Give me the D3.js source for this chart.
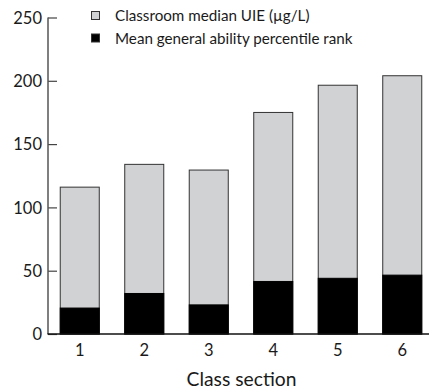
<!DOCTYPE html>
<html><head><meta charset="utf-8">
<script src="https://cdn.jsdelivr.net/npm/d3@7"></script>
<style>body{margin:0;background:#fff}svg{display:block}text{font-family:Lato,"Open Sans",sans-serif;fill:#1a1a1a}</style>
</head><body><svg id="c" width="430" height="392"></svg>
<script>
const categories = ["1","2","3","4","5","6"];
const uieMedian = [116, 134, 129.5, 175, 196.5, 204];
const abilityRank = [20.5, 32, 23, 41.5, 44, 46.5];
const yTicks = [0, 50, 100, 150, 200, 250];
const seriesNames = ["Classroom median UIE (\u00b5g/L)", "Mean general ability percentile rank"];

const svg = d3.select("#c");
const y = d3.scaleLinear().domain([0, 250]).range([334, 17.5]);
const x = d3.scaleBand().domain(categories).range([47.5, 434.5]).paddingInner(0.395).paddingOuter(0.1975);

// bars
svg.append("g").selectAll("rect").data(categories).join("rect")
  .attr("x", d => x(d)).attr("width", x.bandwidth())
  .attr("y", (d,i) => y(uieMedian[i])).attr("height", (d,i) => y(0) - y(uieMedian[i]))
  .attr("fill", "#d1d2d4").attr("stroke", "#333").attr("stroke-width", 1);
svg.append("g").selectAll("rect").data(categories).join("rect")
  .attr("x", d => x(d)).attr("width", x.bandwidth())
  .attr("y", (d,i) => y(abilityRank[i])).attr("height", (d,i) => y(0) - y(abilityRank[i]))
  .attr("fill", "#000").attr("stroke", "#000").attr("stroke-width", 1);

// y axis
const ya = svg.append("g").attr("transform", "translate(48,0)")
  .call(d3.axisRight(y).tickValues(yTicks).tickSize(9).tickFormat(d3.format("d")));
ya.select(".domain").remove();
ya.selectAll(".tick line").attr("stroke", "#444").attr("stroke-width", 1.2);
ya.selectAll(".tick text").attr("x", -6).attr("text-anchor", "end").attr("font-size", 16.5).attr("font-family", "Lato").attr("fill", "#1a1a1a").attr("dy", "0.35em");
svg.append("line").attr("x1", 48).attr("x2", 48).attr("y1", y(250)).attr("y2", y(0)).attr("stroke", "#555").attr("stroke-width", 1.5);

// x axis
const xa = svg.append("g").attr("transform", "translate(0,334)")
  .call(d3.axisBottom(x).tickSize(0).tickPadding(10));
xa.select(".domain").remove();
xa.selectAll(".tick text").attr("font-size", 16.5).attr("font-family", "Lato").attr("fill", "#1a1a1a");
svg.append("line").attr("x1", 47.5).attr("x2", 429).attr("y1", 334).attr("y2", 334).attr("stroke", "#111").attr("stroke-width", 1.5);

svg.append("text").attr("x", 241.5).attr("y", 386).attr("text-anchor", "middle").attr("font-size", 19.3).text("Class section");

// legend
const lg = svg.append("g");
const lcol = ["#d1d2d4", "#000"];
seriesNames.forEach((n, i) => {
  lg.append("rect").attr("x", 91.5).attr("y", 11.5 + i*22.5).attr("width", 8).attr("height", 8)
    .attr("fill", lcol[i]).attr("stroke", "#333").attr("stroke-width", 1);
  lg.append("text").attr("x", 115).attr("y", 16 + i*22.5).attr("dy", "0.35em").attr("font-size", 15.2).text(n);
});
</script></body></html>
